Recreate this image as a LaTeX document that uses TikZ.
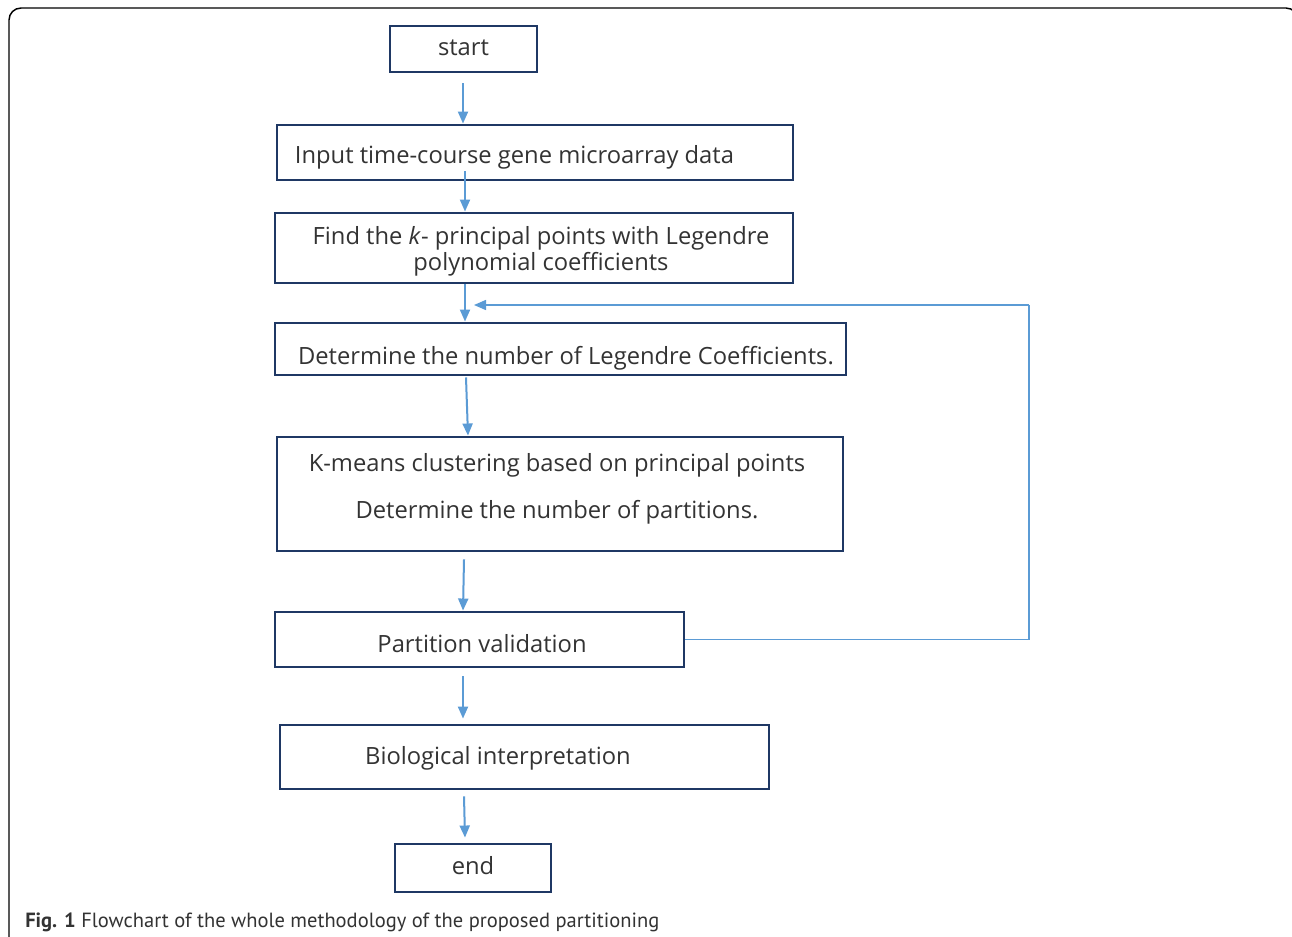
\documentclass[tikz,border=0pt]{standalone}
\usepackage{fontspec}
\setmainfont{Open Sans}
\newfontfamily\capfont{PT Sans}
\usetikzlibrary{arrows.meta,calc}
\definecolor{boxblue}{HTML}{1F3864}
\definecolor{arrowblue}{HTML}{5B9BD5}
\definecolor{txtgray}{HTML}{333333}
\newcommand\tx[3]{\makebox[0pt]{\hspace*{#1}\hspace*{#1}\raisebox{#2}[0pt][0pt]{#3}}}
\begin{document}
\begin{tikzpicture}[x=0.75pt,y=-0.75pt,
  box/.style={draw=boxblue,line width=2.2pt,rectangle,inner sep=0pt,text=txtgray,
    font=\fontsize{17.8}{19.5}\selectfont},
  arr/.style={draw=arrowblue,line width=1.5pt,-{Triangle[length=9pt,width=7.5pt]}},
  fb/.style={draw=arrowblue,line width=1.1pt}]
\useasboundingbox (0,0) rectangle (1292,936);
\clip (0,0) rectangle (1292,936);
\fill[white] (0,0) rectangle (1292,936);
\draw[black,line width=1.1pt,rounded corners=9pt] (9,960) -- (9,8) -- (1298,8) -- (1298,960);

\node[box,minimum width=110.25pt,minimum height=34.5pt] (start) at (463.5,49) {\tx{0pt}{-5pt}{start}};
\node[box,minimum width=387pt,minimum height=41.25pt] (input) at (535,152.5) {\tx{-15.4pt}{-8.6pt}{Input time-course gene microarray data}};
\node[box,minimum width=388.5pt,minimum height=52.5pt] (find) at (534,248) {\tx{5.25pt}{-7.5pt}{\begin{tabular}{@{}c@{}}Find the \textit{k}- principal points with Legendre\\polynomial coefficients\end{tabular}}};
\node[box,minimum width=428.25pt,minimum height=39pt] (det) at (560.5,349) {\tx{4.1pt}{-11.5pt}{Determine the number of Legendre Coefficients.}};
\node[box,minimum width=424.5pt,minimum height=85.5pt] (kmeans) at (560,494) {\tx{-2.25pt}{-1.3pt}{\begin{tabular}{@{}c@{}}K-means clustering based on principal points\\[15.75pt]Determine the number of partitions.\end{tabular}}};
\node[box,minimum width=306.75pt,minimum height=41.25pt] (part) at (479.5,639.5) {\tx{1.9pt}{-9.9pt}{Partition validation}};
\node[box,minimum width=366.75pt,minimum height=48pt] (bio) at (524.5,757) {\tx{-19.9pt}{-5.75pt}{Biological interpretation}};
\node[box,minimum width=117pt,minimum height=36pt] (end) at (473,868) {\tx{0pt}{-5pt}{end}};

\coordinate (c1) at (463,0);
\coordinate (c2) at (465,0);
\coordinate (c3a) at (466,0);
\coordinate (c3b) at (468,0);
\coordinate (c4a) at (464,0);
\coordinate (c4b) at (463,0);
\coordinate (c5) at (463,0);
\coordinate (c6a) at (464,0);
\coordinate (c6b) at (465,0);
\coordinate (fbc) at (1029,305);
\coordinate (fbend) at (474,305);

\draw[arr] ($(start.south -| c1)+(0,10)$) -- (input.north -| c1);
\draw[arr] ($(input.south -| c2)+(0,-10)$) -- (find.north -| c2);
\draw[arr] (find.south -| c2) -- (det.north -| c2);
\draw[arr] ($(det.south -| c3a)+(0,1)$) -- (kmeans.north -| c3b);
\draw[arr] ($(kmeans.south -| c4a)+(0,7)$) -- (part.north -| c4b);
\draw[arr] ($(part.south -| c5)+(0,8)$) -- ($(bio.north -| c5)+(0,-5)$);
\draw[arr] ($(bio.south -| c6a)+(0,6)$) -- ($(end.north -| c6b)+(0,-5)$);
\draw[fb] (part.east) -- (part.east -| fbc) -- (fbc);
\draw[fb,-{Triangle[length=9pt,width=7.5pt]}] (fbc) -- (fbend);

\node[anchor=base west,inner sep=0pt,text=txtgray,font=\capfont\fontsize{15.4}{17}\selectfont] (cap) at (25,927) {\textbf{Fig. 1} Flowchart of the whole methodology of the proposed partitioning};
\end{tikzpicture}
\end{document}
